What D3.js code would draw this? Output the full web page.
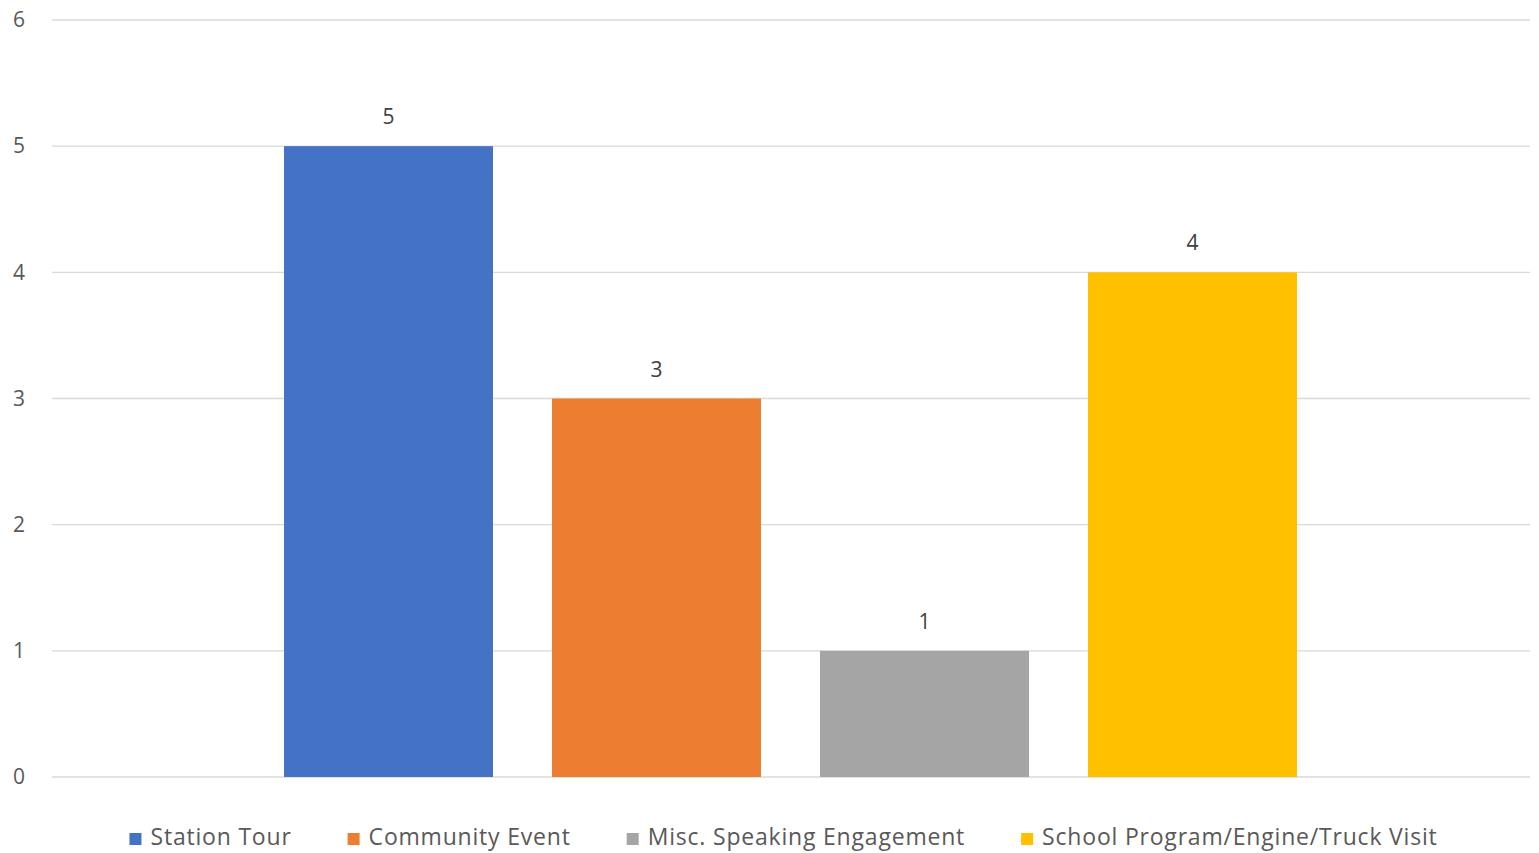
<!DOCTYPE html>
<html><head><meta charset="utf-8">
<script src="https://cdn.jsdelivr.net/npm/d3@7"></script>
<style>body{margin:0;background:#fff;}svg{display:block;}</style>
</head><body>
<svg id="chart" width="1539" height="853"></svg>
<script>
const series = ["Station Tour","Community Event","Misc. Speaking Engagement","School Program/Engine/Truck Visit"];
const values = [5,3,1,4];
const colors = ["#4472C4","#ED7D31","#A5A5A5","#FFC000"];
const yTicks = [0,1,2,3,4,5,6];

(function(){
const svg = d3.select("#chart");
const font = "'Open Sans', 'Noto Sans', sans-serif";
const plotLeft = 52, plotRight = 1530, plotTop = 20, plotBottom = 777;

const y = d3.scaleLinear().domain([0,6]).range([plotBottom, plotTop]);
const x = d3.scaleBand().domain(series).range([284 - 29.5, 1297 + 29.5]).paddingInner(0).paddingOuter(0);
const bw = 209;

svg.append("g").selectAll("line").data(yTicks).join("line")
  .attr("x1", plotLeft).attr("x2", plotRight)
  .attr("y1", d => y(d)).attr("y2", d => y(d))
  .attr("stroke", "#D9D9D9").attr("stroke-width", 1.3);

const yAxis = d3.axisLeft(y).tickValues(yTicks).tickFormat(d3.format("d")).tickSize(0).tickPadding(0);
const ga = svg.append("g").attr("transform", "translate(25,0)").call(yAxis);
ga.select(".domain").remove();
ga.selectAll("text").attr("fill", "#595959").style("font-family", font).style("font-size", "21px");

svg.append("g").selectAll("rect").data(series).join("rect")
  .attr("x", d => x(d) + (x.bandwidth()-bw)/2)
  .attr("width", bw)
  .attr("y", (d,i) => y(values[i]))
  .attr("height", (d,i) => y(0) - y(values[i]))
  .attr("fill", (d,i) => colors[i]);

svg.append("g").selectAll("text").data(series).join("text")
  .attr("x", d => x(d) + x.bandwidth()/2)
  .attr("y", (d,i) => y(values[i]) - 22)
  .attr("text-anchor", "middle")
  .attr("fill", "#404040")
  .style("font-family", font).style("font-size", "21px")
  .text((d,i) => values[i]);

const lg = svg.append("g");
const items = lg.selectAll("g").data(series).join("g");
items.append("rect").attr("width", 12).attr("height", 12).attr("y", -12)
  .attr("fill", (d,i) => colors[i]);
items.append("text").attr("x", 21).attr("y", 0)
  .attr("fill", "#595959").style("font-family", font).style("font-size", "23px")
  .style("letter-spacing", "0.8px")
  .text(d => d);
const widths = [];
items.each(function(){ widths.push(this.getBBox().width); });
const total = widths.reduce((a,b)=>a+b,0) + 56*(widths.length-1);
let start = 783.5 - total/2;
items.attr("transform", (d,i) => { const t = `translate(${start},845)`; start += widths[i] + 56; return t; });
})();
</script>
</body></html>
